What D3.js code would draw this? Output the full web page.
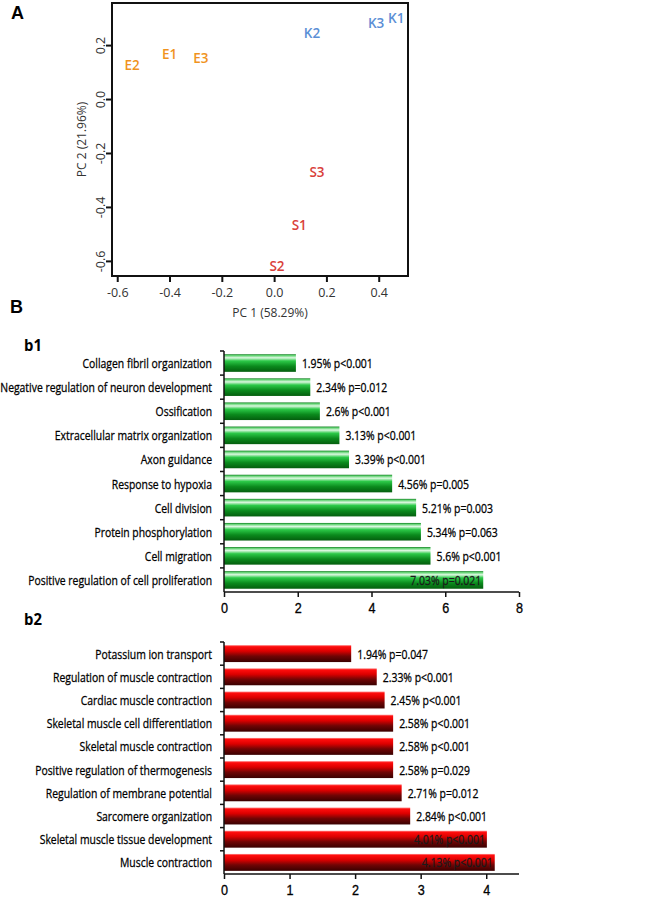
<!DOCTYPE html>
<html><head><meta charset="utf-8">
<script src="https://cdn.jsdelivr.net/npm/d3@7"></script>
<style>
html,body{margin:0;padding:0;background:#fff;}
svg{display:block;font-family:"Open Sans",sans-serif;}
</style></head>
<body>
<svg id="chart" width="670" height="898"></svg>
<script>
// ---------- DATA ----------
const pcaLabels = ["E1","E2","E3","K1","K2","K3","S1","S2","S3"];
const pcaX = [-0.40,-0.543,-0.28,0.467,0.145,0.39,0.096,0.011,0.164];
const pcaY = [0.167,0.126,0.152,0.30,0.244,0.281,-0.467,-0.618,-0.27];
const pcaGroup = ["E","E","E","K","K","K","S","S","S"];
const pcaXTicks = [-0.6,-0.4,-0.2,0.0,0.2,0.4];
const pcaYTicks = [-0.6,-0.4,-0.2,0.0,0.2];
const pcaXTitle = "PC 1 (58.29%)";
const pcaYTitle = "PC 2 (21.96%)";

const b1Terms = ["Collagen fibril organization","Negative regulation of neuron development","Ossification",
  "Extracellular matrix organization","Axon guidance","Response to hypoxia","Cell division",
  "Protein phosphorylation","Cell migration","Positive regulation of cell proliferation"];
const b1Values = [1.95,2.34,2.6,3.13,3.39,4.56,5.21,5.34,5.6,7.03];
const b1P = ["p<0.001","p=0.012","p<0.001","p<0.001","p<0.001","p=0.005","p=0.003","p=0.063","p<0.001","p=0.021"];
const b1Ticks = [0,2,4,6,8];

const b2Terms = ["Potassium ion transport","Regulation of muscle contraction","Cardiac muscle contraction",
  "Skeletal muscle cell differentiation","Skeletal muscle contraction","Positive regulation of thermogenesis",
  "Regulation of membrane potential","Sarcomere organization","Skeletal muscle tissue development","Muscle contraction"];
const b2Values = [1.94,2.33,2.45,2.58,2.58,2.58,2.71,2.84,4.01,4.13];
const b2P = ["p=0.047","p<0.001","p<0.001","p<0.001","p<0.001","p=0.029","p=0.012","p<0.001","p<0.001","p<0.001"];
const b2Ticks = [0,1,2,3,4];

// ---------- DRAW ----------
const svg = d3.select("#chart");
const defs = svg.append("defs");

function grad(id, stops){
  const g = defs.append("linearGradient").attr("id",id).attr("x1",0).attr("y1",0).attr("x2",0).attr("y2",1);
  stops.forEach(s=>g.append("stop").attr("offset",s[0]).attr("stop-color",s[1]));
}
grad("gGreen",[[0,"#0d7a1c"],[0.07,"#5fd270"],[0.2,"#dcf8e0"],[0.38,"#2cc948"],[0.68,"#0b8a1d"],[1,"#045e0e"]]);
grad("gRed",[[0,"#ff8c8c"],[0.09,"#ff0d0d"],[0.35,"#dc0000"],[0.65,"#700505"],[1,"#3a0000"]]);

// panel letters
svg.append("text").attr("x",11).attr("y",19).text("A").attr("font-family","Liberation Sans, Arial").attr("font-weight","bold").attr("font-size",18);
svg.append("text").attr("x",10).attr("y",313).text("B").attr("font-family","Liberation Sans, Arial").attr("font-weight","bold").attr("font-size",18);

// ---- PCA ----
const px = d3.scaleLinear().domain([-0.62,0.512]).range([112,408]);
const py = d3.scaleLinear().domain([0.356,-0.656]).range([3,276]);
const pcaColor = d3.scaleOrdinal().domain(["E","K","S"]).range(["#f0931e","#5b8fd6","#d9403a"]);
const pca = svg.append("g");
pca.append("rect").attr("x",px.range()[0]).attr("y",py.range()[0])
  .attr("width",px.range()[1]-px.range()[0]).attr("height",py.range()[1]-py.range()[0])
  .attr("fill","none").attr("stroke","#111").attr("stroke-width",2);
const xAx = pca.append("g").attr("transform",`translate(0,${py.range()[1]})`)
  .call(d3.axisBottom(px).tickValues(pcaXTicks).tickSize(6).tickPadding(6));
xAx.select(".domain").remove();
xAx.selectAll("line").attr("stroke","#111").attr("stroke-width",2);
xAx.selectAll("text").attr("font-size",12.5).attr("fill","#333").attr("font-family","Open Sans")
  .text(d=>d3.format(".1f")(d).replace("−","-"));
const yAx = pca.append("g").attr("transform",`translate(${px.range()[0]},0)`)
  .call(d3.axisLeft(py).tickValues(pcaYTicks).tickSize(6));
yAx.select(".domain").remove();
yAx.selectAll("line").attr("stroke","#111").attr("stroke-width",2);
yAx.selectAll("text").remove();
yAx.selectAll(".tick").append("text")
  .attr("transform","translate(-7,0) rotate(-90)").attr("text-anchor","middle")
  .attr("font-size",12.5).attr("fill","#333").attr("font-family","Open Sans")
  .text(d=>d3.format(".1f")(d).replace("−","-"));
pca.append("text").attr("x",270).attr("y",317).attr("text-anchor","middle")
  .attr("font-size",12).attr("fill","#333").text(pcaXTitle);
pca.append("text").attr("transform",`translate(86,${(py.range()[0]+py.range()[1])/2}) rotate(-90)`)
  .attr("text-anchor","middle").attr("font-size",12).attr("fill","#333").text(pcaYTitle);
pca.selectAll("text.pt").data(pcaLabels).enter().append("text").attr("class","pt")
  .attr("x",(d,i)=>px(pcaX[i])).attr("y",(d,i)=>py(pcaY[i]))
  .attr("text-anchor","middle").attr("dominant-baseline","central")
  .attr("font-size",13.5).attr("font-weight",600)
  .attr("fill",(d,i)=>pcaColor(pcaGroup[i])).text(d=>d);

// ---- bar charts ----
// horizontal compression to mimic the narrow Calibri-like font of the original
const probe = svg.append("text").attr("font-size",13.5).text(b1Terms[1]);
const SX = 212/probe.node().getComputedTextLength();
probe.text(b1Values[0]+"% "+b1P[0]);
const SXV = 71/probe.node().getComputedTextLength();
probe.remove();

function ctext(g, x, y, txt, anchor, size, color, sx){
  return g.append("text").attr("transform",`translate(${x},${y}) scale(${sx},1)`)
    .attr("text-anchor",anchor).attr("dominant-baseline","central")
    .attr("font-size",size).attr("fill",color||"#000")
    .attr("stroke",color||"#000").attr("stroke-width",0.3).text(txt);
}

function barChart(cfg){
  const g = svg.append("g");
  const x = d3.scaleLinear().domain(cfg.domain).range([224,519]);
  const y = d3.scaleBand().domain(cfg.terms).range(cfg.yr).paddingInner(0.27).paddingOuter(0.135);
  g.append("text").attr("transform",`translate(24,${cfg.titleY}) scale(0.9,1)`)
    .attr("dominant-baseline","central").attr("font-size",16.5).attr("font-weight","bold").text(cfg.title);
  g.selectAll("rect.bar").data(cfg.terms).enter().append("rect").attr("class","bar")
    .attr("x",x(0)).attr("y",d=>y(d)).attr("height",y.bandwidth())
    .attr("width",(d,i)=>x(cfg.values[i])-x(0)).attr("fill",`url(#${cfg.grad})`);
  const step = y.step();
  g.append("line").attr("x1",x(0)).attr("x2",x(0)).attr("y1",cfg.yr[0]).attr("y2",cfg.yr[1]).attr("stroke","#111").attr("stroke-width",1.5);
  const bounds = d3.range(cfg.terms.length).map(i=>y(cfg.terms[i]) - step*y.paddingOuter());
  g.selectAll("line.yt").data(bounds).enter().append("line").attr("class","yt")
    .attr("x1",x(0)-4).attr("x2",x(0)).attr("y1",d=>d).attr("y2",d=>d).attr("stroke","#111").attr("stroke-width",1.5);
  const xa = g.append("g").attr("transform",`translate(0,${cfg.yr[1]})`)
    .call(d3.axisBottom(x).tickValues(cfg.ticks).tickSize(5));
  xa.select(".domain").attr("stroke","#111").attr("stroke-width",1.5).attr("d",`M${x(0)},0H${x(cfg.domain[1])}`);
  xa.selectAll("line").attr("stroke","#111").attr("stroke-width",1.5);
  xa.selectAll("text").remove();
  xa.selectAll(".tick").each(function(d){
    ctext(d3.select(this), 0, 16, String(d), "middle", 14, "#000", 0.9);
  });
  cfg.terms.forEach((t,i)=>ctext(g, 212, y(t)+y.bandwidth()/2, t, "end", 13.5, "#000", SX));
  cfg.terms.forEach((t,i)=>{
    const lab = cfg.values[i] + "% " + cfg.p[i];
    const cy = y(t)+y.bandwidth()/2;
    const tx = ctext(g, x(cfg.values[i])+6, cy, lab, "start", 13.5, "#000", SXV);
    const w = tx.node().getComputedTextLength()*SXV;
    if (x(cfg.values[i])+6+w > x(cfg.domain[1])) {
      tx.attr("transform",`translate(${x(cfg.values[i])-2},${cy}) scale(${SXV},1)`)
        .attr("text-anchor","end").attr("fill","#1a1a1a").attr("stroke","#1a1a1a");
    }
  });
}

barChart({title:"b1", titleY:345, terms:b1Terms, values:b1Values, p:b1P, domain:[0,8], ticks:b1Ticks, yr:[351,592], grad:"gGreen"});
barChart({title:"b2", titleY:619, terms:b2Terms, values:b2Values, p:b2P, domain:[0,4.5], ticks:b2Ticks, yr:[642,874], grad:"gRed"});
</script>
</body></html>
